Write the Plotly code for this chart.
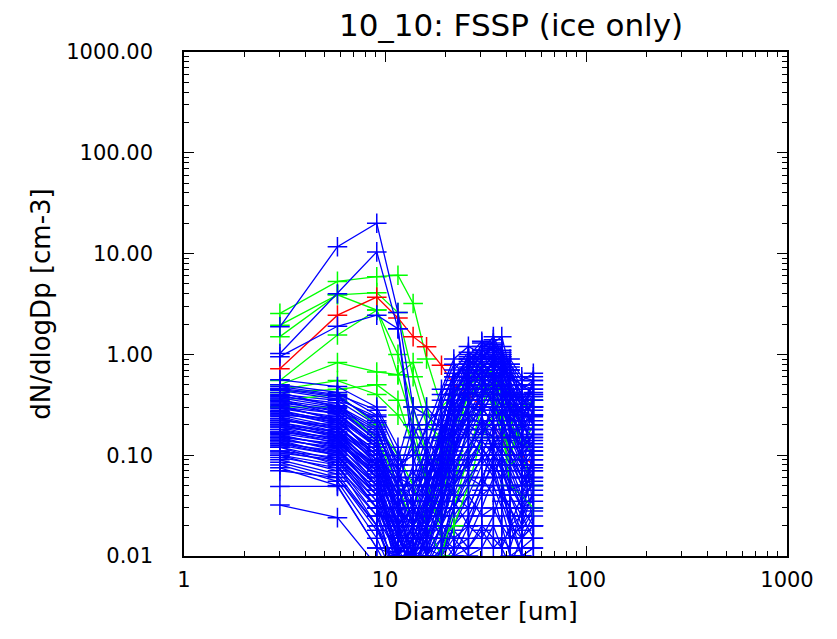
import plotly.graph_objects as go

# FSSP bin centre diameters (um)
diameter = [3.0, 5.8, 9.1, 11.6, 13.8, 16.1, 19.1, 22.0, 26.0, 30.3, 34.6, 38.1, 41.9, 47.9, 54.7]

# red spectrum
red_01 = [0.72, 2.45, 3.7, 2.3, 1.5, 1.19, 0.78, 0.50, 0.40, 0.30, 0.20, 0.15, 0.10, 0.10, 0.08]

# green spectra
green_01 = [2.55, 5.3, 5.9, 6.1, 3.2, 0.9, 0.3, 0.4, 0.6, 0.7, 0.6, 0.5, 0.4, 0.35, 0.3]
green_02 = [1.95, 3.9, 4.1, 2.6, 0.6, 0.2, 0.15, 0.4, 0.7, 0.8, 0.6, 0.4, 0.3, 0.3, 0.35]
green_03 = [1.5, 3.9, 2.75, 1.0, 0.3, 0.1, 0.08, 0.3, 0.5, 0.6, 0.7, 0.4, 0.2, 0.3, 0.3]
green_04 = [0.55, 1.56, 2.75, 0.63, 0.2, 0.05, 0.03, 0.15, 0.4, 0.5, 0.3, 0.2, 0.1, 0.2, 0.25]
green_05 = [0.5, 0.83, 0.67, 0.63, 0.83, 0.3, 0.1, 0.2, 0.3, 0.6, 0.5, 0.3, 0.1, 0.25, 0.35]
green_06 = [0.45, 0.55, 0.4, 0.25, 0.15, 0.05, 0.02, 0.05, 0.2, 0.4, 0.5, 0.3, 0.2, 0.15, 0.1]
green_07 = [0.35, 0.4, 0.2, 0.1, 0.05, 0.02, 0.01, 0.03, 0.1, 0.3, 0.7, 0.2, 0.05, 0.04, 0.03]
green_08 = [0.3, 0.3, 0.15, 0.05, 0.02, 0.03, 0.05, 0.2, 0.6, 0.5, 0.4, 0.15, 0.08, 0.1, 0.05]
green_09 = [0.42, 0.45, 0.5, 0.35, 0.12, 0.06, 0.015, 0.02, 0.05, 0.15, 0.25, 0.6, 0.35, 0.12, 0.2]

# blue spectra
blue_01 = [1.88, 11.7, 20.0, 2.6, 0.30, 0.12, 0.05, 0.20, 0.50, 0.90, 1.20, 0.80, 0.40, 0.20, 0.15]
blue_02 = [1.02, 4.0, 10.4, 1.8, 0.15, 0.05, 0.08, 0.30, 0.60, 1.10, 1.50, 1.00, 0.50, 0.30, 0.20]
blue_03 = [0.95, 1.9, 2.45, 1.8, 0.10, 0.03, 0.10, 0.40, 0.80, 1.00, 0.90, 0.70, 0.60, 0.40, 0.30]
blue_04 = [0.56, 0.48, 0.30, 0.12, 0.03, 0.02, 0.06, 0.25, 0.70, 1.30, 1.10, 0.60, 0.30, 0.20, 0.60]
blue_05 = [0.50, 0.42, 0.25, 0.08, 0.02, 0.01, 0.04, 0.15, 0.45, 0.90, 1.40, 0.90, 0.45, 0.35, 0.50]
blue_06 = [0.45, 0.38, 0.22, 0.06, 0.05, 0.08, 0.15, 0.35, 0.80, 1.00, 0.70, 0.50, 0.25, 0.15, 0.40]
blue_07 = [0.42, 0.30, 0.18, 0.05, 0.012, 0.02, 0.10, 0.50, 1.00, 0.80, 0.60, 0.35, 0.20, 0.10, 0.30]
blue_08 = [0.38, 0.33, 0.15, 0.03, 0.02, 0.04, 0.20, 0.60, 0.90, 0.70, 1.00, 1.20, 0.50, 0.25, 0.25]
blue_09 = [0.36, 0.25, 0.12, 0.04, 0.006, 0.015, 0.03, 0.10, 0.30, 0.60, 0.80, 1.00, 0.70, 0.40, 0.20]
blue_10 = [0.33, 0.28, 0.14, 0.02, 0.03, 0.10, 0.25, 0.40, 0.35, 0.50, 0.90, 0.60, 0.30, 0.15, 0.15]
blue_11 = [0.31, 0.22, 0.10, 0.015, 0.01, 0.03, 0.08, 0.20, 0.60, 1.10, 0.90, 0.40, 0.15, 0.08, 0.12]
blue_12 = [0.29, 0.24, 0.09, 0.03, 0.08, 0.20, 0.30, 0.25, 0.40, 0.70, 0.50, 0.30, 0.20, 0.10, 0.10]
blue_13 = [0.27, 0.20, 0.08, 0.02, 0.005, 0.01, 0.02, 0.06, 0.20, 0.40, 0.60, 0.80, 0.50, 0.30, 0.08]
blue_14 = [0.26, 0.21, 0.11, 0.05, 0.15, 0.30, 0.20, 0.15, 0.30, 0.50, 0.40, 0.25, 0.12, 0.06, 0.07]
blue_15 = [0.24, 0.18, 0.07, 0.01, 0.02, 0.06, 0.15, 0.40, 0.70, 0.60, 0.30, 0.15, 0.10, 0.05, 0.06]
blue_16 = [0.23, 0.17, 0.06, 0.008, 0.015, 0.02, 0.05, 0.12, 0.25, 0.35, 0.70, 0.50, 0.20, 0.12, 0.05]
blue_17 = [0.22, 0.19, 0.10, 0.04, 0.01, 0.005, 0.012, 0.04, 0.10, 0.25, 0.45, 0.30, 0.60, 0.50, 0.45]
blue_18 = [0.21, 0.16, 0.07, 0.02, 0.04, 0.12, 0.40, 0.80, 0.60, 0.30, 0.20, 0.10, 0.05, 0.03, 0.04]
blue_19 = [0.20, 0.15, 0.05, 0.012, 0.006, 0.02, 0.08, 0.30, 0.50, 0.45, 0.35, 0.20, 0.15, 0.20, 0.35]
blue_20 = [0.19, 0.14, 0.06, 0.03, 0.01, 0.04, 0.03, 0.08, 0.15, 0.30, 0.50, 0.70, 0.40, 0.20, 0.03]
blue_21 = [0.18, 0.13, 0.05, 0.02, 0.03, 0.01, 0.02, 0.05, 0.12, 0.20, 0.25, 0.40, 0.30, 0.15, 0.09]
blue_22 = [0.17, 0.14, 0.08, 0.06, 0.20, 0.10, 0.05, 0.10, 0.20, 0.30, 0.20, 0.12, 0.08, 0.04, 0.10]
blue_23 = [0.16, 0.12, 0.04, 0.007, 0.012, 0.03, 0.06, 0.15, 0.25, 0.20, 0.15, 0.08, 0.04, 0.02, 0.13]
blue_24 = [0.15, 0.11, 0.05, 0.015, 0.008, 0.015, 0.04, 0.06, 0.08, 0.15, 0.30, 0.25, 0.12, 0.08, 0.18]
blue_25 = [0.14, 0.12, 0.04, 0.01, 0.02, 0.05, 0.12, 0.20, 0.15, 0.10, 0.06, 0.04, 0.03, 0.015, 0.02]
blue_26 = [0.14, 0.10, 0.03, 0.005, 0.01, 0.008, 0.015, 0.03, 0.05, 0.10, 0.20, 0.15, 0.25, 0.30, 0.22]
blue_27 = [0.13, 0.10, 0.035, 0.02, 0.005, 0.02, 0.01, 0.02, 0.04, 0.08, 0.12, 0.18, 0.10, 0.06, 0.05]
blue_28 = [0.12, 0.09, 0.03, 0.01, 0.03, 0.08, 0.10, 0.06, 0.10, 0.18, 0.15, 0.10, 0.06, 0.03, 0.035]
blue_29 = [0.12, 0.08, 0.025, 0.006, 0.015, 0.012, 0.03, 0.10, 0.35, 0.25, 0.10, 0.05, 0.02, 0.025, 0.04]
blue_30 = [0.11, 0.085, 0.03, 0.012, 0.01, 0.02, 0.05, 0.04, 0.06, 0.05, 0.08, 0.06, 0.02, 0.015, 0.025]
blue_31 = [0.10, 0.08, 0.02, 0.008, 0.006, 0.01, 0.008, 0.02, 0.03, 0.06, 0.10, 0.08, 0.05, 0.04, 0.07]
blue_32 = [0.10, 0.07, 0.025, 0.01, 0.02, 0.01, 0.02, 0.015, 0.02, 0.04, 0.05, 0.03, 0.015, 0.02, 0.03]
blue_33 = [0.09, 0.065, 0.02, 0.005, 0.008, 0.03, 0.015, 0.012, 0.015, 0.03, 0.06, 0.10, 0.06, 0.03, 0.02]
blue_34 = [0.085, 0.06, 0.018, 0.007, 0.012, 0.006, 0.01, 0.025, 0.04, 0.025, 0.03, 0.02, 0.01, 0.012, 0.015]
blue_35 = [0.08, 0.055, 0.015, 0.005, 0.005, 0.008, 0.012, 0.018, 0.012, 0.02, 0.015, 0.012, 0.02, 0.04, 0.05]
blue_36 = [0.075, 0.05, 0.012, 0.01, 0.015, 0.02, 0.03, 0.05, 0.08, 0.12, 0.08, 0.04, 0.025, 0.01, 0.012]
blue_37 = [0.07, 0.06, 0.02, 0.006, 0.01, 0.015, 0.02, 0.035, 0.02, 0.015, 0.025, 0.045, 0.03, 0.018, 0.028]
blue_38 = [0.049, 0.049, 0.012, 0.005, 0.006, 0.01, 0.015, 0.01, 0.012, 0.018, 0.012, 0.015, 0.012, 0.03, 0.06]
blue_39 = [0.032, 0.024, 0.008, 0.005, 0.01, 0.012, 0.01, 0.015, 0.01, 0.012, 0.02, 0.012, 0.008, 0.015, 0.02]
blue_40 = [0.40, 0.35, 0.20, 0.09, 0.30, 0.25, 0.18, 0.30, 0.50, 0.60, 0.40, 0.20, 0.10, 0.06, 0.08]
blue_41 = [0.34, 0.27, 0.16, 0.07, 0.12, 0.06, 0.10, 0.20, 0.40, 0.55, 0.70, 0.90, 0.60, 0.50, 0.40]
blue_42 = [0.30, 0.26, 0.12, 0.04, 0.06, 0.15, 0.08, 0.12, 0.25, 0.45, 1.00, 0.80, 0.35, 0.18, 0.28]
blue_43 = [0.25, 0.23, 0.13, 0.025, 0.04, 0.07, 0.20, 0.50, 0.35, 0.20, 0.12, 0.07, 0.04, 0.025, 0.015]
blue_44 = [0.22, 0.20, 0.09, 0.03, 0.02, 0.03, 0.07, 0.18, 0.45, 0.80, 0.65, 0.45, 0.25, 0.10, 0.02]
blue_45 = [0.19, 0.16, 0.08, 0.04, 0.07, 0.04, 0.025, 0.03, 0.07, 0.15, 0.35, 0.55, 0.80, 0.45, 0.55]
blue_46 = [0.17, 0.15, 0.06, 0.015, 0.01, 0.006, 0.005, 0.01, 0.02, 0.05, 0.15, 0.30, 0.20, 0.08, 0.06]
blue_47 = [0.15, 0.13, 0.07, 0.03, 0.05, 0.09, 0.06, 0.04, 0.03, 0.06, 0.04, 0.02, 0.015, 0.02, 0.045]
blue_48 = [0.13, 0.11, 0.045, 0.012, 0.02, 0.04, 0.08, 0.12, 0.18, 0.12, 0.07, 0.035, 0.02, 0.01, 0.012]
blue_49 = [0.11, 0.095, 0.04, 0.018, 0.03, 0.015, 0.025, 0.07, 0.12, 0.22, 0.18, 0.22, 0.14, 0.10, 0.14]
blue_50 = [0.095, 0.075, 0.03, 0.015, 0.008, 0.005, 0.008, 0.012, 0.025, 0.045, 0.09, 0.14, 0.09, 0.05, 0.09]
blue_51 = [0.28, 0.21, 0.11, 0.05, 0.03, 0.06, 0.15, 0.45, 0.85, 1.20, 1.30, 1.50, 0.70, 0.30, 0.50]
blue_52 = [0.20, 0.17, 0.09, 0.03, 0.015, 0.03, 0.12, 0.35, 0.75, 0.95, 1.20, 1.10, 0.80, 0.55, 0.65]
blue_53 = [0.48, 0.40, 0.28, 0.10, 0.04, 0.05, 0.20, 0.55, 0.90, 1.10, 0.95, 0.75, 0.40, 0.25, 0.35]
blue_54 = [0.44, 0.36, 0.24, 0.07, 0.02, 0.03, 0.10, 0.40, 0.70, 0.95, 1.15, 0.85, 0.55, 0.30, 0.45]
blue_55 = [0.39, 0.31, 0.19, 0.05, 0.015, 0.04, 0.18, 0.70, 1.05, 0.85, 0.75, 0.60, 0.35, 0.20, 0.25]
blue_56 = [0.35, 0.29, 0.17, 0.06, 0.03, 0.08, 0.30, 0.65, 0.55, 0.75, 0.85, 0.95, 0.65, 0.35, 0.30]
blue_57 = [0.32, 0.26, 0.13, 0.03, 0.01, 0.02, 0.06, 0.25, 0.50, 0.65, 0.80, 0.70, 0.90, 0.60, 0.55]
blue_58 = [0.30, 0.23, 0.12, 0.02, 0.008, 0.015, 0.04, 0.18, 0.55, 0.90, 1.25, 0.95, 0.45, 0.20, 0.18]
blue_59 = [0.27, 0.22, 0.10, 0.035, 0.05, 0.12, 0.35, 0.60, 0.80, 0.55, 0.45, 0.50, 0.30, 0.15, 0.12]
blue_60 = [0.25, 0.19, 0.09, 0.025, 0.01, 0.02, 0.09, 0.30, 0.65, 0.70, 0.60, 0.45, 0.28, 0.40, 0.42]
blue_61 = [0.23, 0.18, 0.085, 0.018, 0.006, 0.01, 0.03, 0.12, 0.35, 0.75, 0.95, 1.05, 0.75, 0.38, 0.25]
blue_62 = [0.21, 0.17, 0.075, 0.03, 0.02, 0.05, 0.15, 0.45, 0.60, 0.50, 0.65, 0.55, 0.30, 0.12, 0.16]
blue_63 = [0.20, 0.155, 0.07, 0.02, 0.012, 0.025, 0.07, 0.22, 0.45, 0.60, 0.50, 0.35, 0.22, 0.28, 0.20]
blue_64 = [0.18, 0.145, 0.065, 0.015, 0.025, 0.06, 0.14, 0.28, 0.42, 0.38, 0.55, 0.65, 0.45, 0.22, 0.11]
blue_65 = [0.165, 0.135, 0.06, 0.022, 0.007, 0.012, 0.035, 0.09, 0.22, 0.42, 0.62, 0.48, 0.32, 0.18, 0.24]
blue_66 = [0.155, 0.125, 0.055, 0.012, 0.01, 0.018, 0.05, 0.16, 0.30, 0.28, 0.40, 0.30, 0.18, 0.09, 0.075]
blue_67 = [0.145, 0.115, 0.05, 0.009, 0.004, 0.008, 0.02, 0.07, 0.18, 0.32, 0.28, 0.20, 0.12, 0.07, 0.11]
blue_68 = [0.135, 0.105, 0.045, 0.016, 0.035, 0.02, 0.045, 0.11, 0.20, 0.16, 0.22, 0.28, 0.18, 0.12, 0.16]
blue_69 = [0.125, 0.1, 0.04, 0.011, 0.015, 0.035, 0.02, 0.05, 0.09, 0.14, 0.10, 0.07, 0.045, 0.05, 0.08]
blue_70 = [0.105, 0.09, 0.035, 0.008, 0.012, 0.006, 0.012, 0.03, 0.06, 0.09, 0.13, 0.10, 0.07, 0.035, 0.055]
blue_71 = [0.46, 0.39, 0.21, 0.08, 0.10, 0.18, 0.45, 0.90, 1.20, 1.00, 0.80, 0.55, 0.38, 0.28, 0.30]
blue_72 = [0.37, 0.30, 0.14, 0.045, 0.02, 0.035, 0.12, 0.50, 0.95, 1.35, 1.05, 0.65, 0.42, 0.32, 0.38]

y_tickvals = [0.01, 0.1, 1, 10, 100, 1000]
y_ticktext = ["0.01", "0.10", "1.00", "10.00", "100.00", "1000.00"]
x_tickvals = [1, 10, 100, 1000]
x_ticktext = ["1", "10", "100", "1000"]
minor_x = [m * d for d in [1, 10, 100] for m in range(2, 10)]
minor_y = [m * d for d in [0.01, 0.1, 1, 10, 100] for m in range(2, 10)]

blue = [blue_01, blue_02, blue_03, blue_04, blue_05, blue_06, blue_07, blue_08, blue_09, blue_10,
        blue_11, blue_12, blue_13, blue_14, blue_15, blue_16, blue_17, blue_18, blue_19, blue_20,
        blue_21, blue_22, blue_23, blue_24, blue_25, blue_26, blue_27, blue_28, blue_29, blue_30,
        blue_31, blue_32, blue_33, blue_34, blue_35, blue_36, blue_37, blue_38, blue_39, blue_40,
        blue_41, blue_42, blue_43, blue_44, blue_45, blue_46, blue_47, blue_48, blue_49, blue_50,
        blue_51, blue_52, blue_53, blue_54, blue_55, blue_56, blue_57, blue_58, blue_59, blue_60,
        blue_61, blue_62, blue_63, blue_64, blue_65, blue_66, blue_67, blue_68, blue_69, blue_70,
        blue_71, blue_72]
green = [green_01, green_02, green_03, green_04, green_05, green_06, green_07, green_08, green_09]

fig = go.Figure()


def add_spectrum(vals, color):
    fig.add_trace(go.Scatter(
        x=diameter, y=vals, mode="lines+markers",
        line=dict(color=color, width=1.3),
        marker=dict(symbol="cross-thin", size=14, line=dict(color=color, width=1.5)),
        showlegend=False, hoverinfo="skip"))


# interleave draw order a bit, like the overplotted IDL output
for v in blue[26:52]:
    add_spectrum(v, "#0000ff")
for v in green:
    add_spectrum(v, "#00ff00")
add_spectrum(red_01, "#ff0000")
for v in blue[:26] + blue[52:]:
    add_spectrum(v, "#0000ff")

tick_font = dict(family="DejaVu Sans", size=21, color="black")
xtitle_font = dict(family="DejaVu Sans", size=25, color="black")
ytitle_font = dict(family="DejaVu Sans", size=26, color="black")
# the page body adds an 8 px offset, so margins are trimmed by that much
fig.update_layout(
    width=837, height=639,
    margin=dict(l=176, r=58, t=44, b=91),
    paper_bgcolor="white", plot_bgcolor="white",
    title=dict(text="10_10: FSSP (ice only)", x=0.601, xanchor="center", y=0.973, yanchor="middle",
               font=dict(family="DejaVu Sans", size=31, color="black")),
    font=tick_font,
)
fig.update_xaxes(
    type="log", range=[0, 3], tickvals=x_tickvals, ticktext=x_ticktext,
    ticks="inside", ticklen=10, tickwidth=1, tickcolor="black",
    minor=dict(ticks="inside", ticklen=5, tickcolor="black", tickvals=minor_x, showgrid=False),
    showline=True, linecolor="black", linewidth=1.5, mirror="ticks", showgrid=False,
    zeroline=False, automargin=False, ticklabelstandoff=4,
    title=dict(text="Diameter [um]", font=xtitle_font, standoff=12),
    tickfont=tick_font,
)
fig.update_yaxes(
    type="log", range=[-2, 3], tickvals=y_tickvals, ticktext=y_ticktext,
    ticks="inside", ticklen=10, tickwidth=1, tickcolor="black",
    minor=dict(ticks="inside", ticklen=5, tickcolor="black", tickvals=minor_y, showgrid=False),
    showline=True, linecolor="black", linewidth=1.5, mirror="ticks", showgrid=False,
    zeroline=False, automargin=False, ticklabelstandoff=25,
    title=dict(text="dN/dlogDp [cm-3]", font=ytitle_font, standoff=8),
    tickfont=tick_font,
)

fig.write_html("out.html")
